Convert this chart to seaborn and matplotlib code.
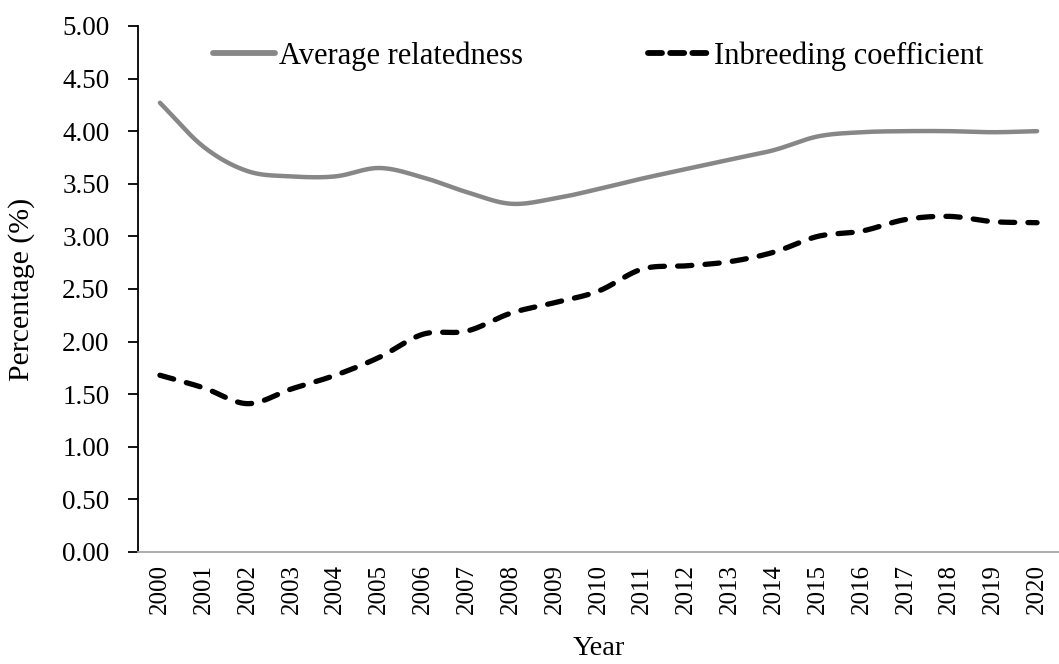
import numpy as np
import pandas as pd
import matplotlib
matplotlib.use("Agg")
import matplotlib.pyplot as plt
import seaborn as sns

years = [str(y) for y in range(2000, 2021)]
avg_relatedness = [4.27, 3.85, 3.62, 3.57, 3.57, 3.65, 3.56, 3.42, 3.31, 3.36, 3.45,
                   3.55, 3.64, 3.73, 3.82, 3.95, 3.99, 4.00, 4.00, 3.99, 4.00]
inbreeding = [1.68, 1.56, 1.41, 1.55, 1.68, 1.85, 2.07, 2.10, 2.27, 2.37, 2.48,
              2.69, 2.72, 2.76, 2.85, 3.00, 3.05, 3.16, 3.19, 3.14, 3.13]
yticks = [0, 0.5, 1, 1.5, 2, 2.5, 3, 3.5, 4, 4.5, 5]


def smooth(vals, n=20):
    """Catmull-Rom smoothing (similar to Excel's smoothed line)."""
    p = np.asarray(vals, dtype=float)
    pts = np.concatenate([[2 * p[0] - p[1]], p, [2 * p[-1] - p[-2]]])
    xs, ys = [], []
    for i in range(1, len(pts) - 2):
        t = np.linspace(0, 1, n, endpoint=False)
        p0, p1, p2, p3 = pts[i - 1], pts[i], pts[i + 1], pts[i + 2]
        y = 0.5 * ((2 * p1) + (-p0 + p2) * t + (2 * p0 - 5 * p1 + 4 * p2 - p3) * t ** 2
                   + (-p0 + 3 * p1 - 3 * p2 + p3) * t ** 3)
        xs.extend(i - 1 + t)
        ys.extend(y)
    xs.append(len(p) - 1)
    ys.append(p[-1])
    return np.array(xs), np.array(ys)


sns.set_theme(style="white")
plt.rcParams['font.family'] = ['Liberation Serif', 'DejaVu Serif']
plt.rcParams['text.color'] = 'black'
plt.rcParams['xtick.color'] = 'black'
plt.rcParams['ytick.color'] = 'black'
plt.rcParams['axes.labelcolor'] = 'black'

fig = plt.figure(figsize=(10.59, 6.64), dpi=100)
ax = fig.add_axes([0.1303, 0.1687, 0.8697, 0.7922])

xa, ya = smooth(avg_relatedness)
xi, yi = smooth(inbreeding)
df_a = pd.DataFrame({"x": xa, "y": ya})
df_i = pd.DataFrame({"x": xi, "y": yi})

sns.lineplot(data=df_a, x="x", y="y", ax=ax, color="#878787", linewidth=3.2,
             label="Average relatedness", solid_capstyle="round")
sns.lineplot(data=df_i, x="x", y="y", ax=ax, color="black", linewidth=3.8,
             label="Inbreeding coefficient")
ax.lines[1].set_dashes([2.7, 2.5])
ax.lines[1].set_dash_capstyle("round")

ax.set_xlim(-0.5, len(years) - 0.5)
ax.set_ylim(0, 5)
ax.set_xticks(range(len(years)))
ax.set_xticklabels(years, rotation=90, fontsize=18)
ax.set_yticks(yticks)
ax.set_yticklabels([f"{v:.2f}" for v in yticks], fontsize=19.5)
ax.tick_params(axis="y", which="both", left=True, length=7.5, width=1.3, color="black",
               direction="out", pad=13)
ax.tick_params(axis="x", bottom=False, pad=3)

for s in ["top", "right"]:
    ax.spines[s].set_visible(False)
ax.spines["left"].set_color("black")
ax.spines["left"].set_linewidth(1.3)
ax.spines["bottom"].set_color("#a6a6a6")
ax.spines["bottom"].set_linewidth(1.3)

ax.set_xlabel("Year", fontsize=20.5)
ax.set_ylabel("Percentage (%)", fontsize=21.5)
ax.xaxis.set_label_coords(0.5, -0.16)
ax.yaxis.set_label_coords(-0.112, 0.5)

leg = ax.legend(loc="center", bbox_to_anchor=(0.5, 0.943), ncol=2, frameon=False,
                fontsize=22, handlelength=2.0, handletextpad=0.15, columnspacing=4.1,
                borderpad=0, borderaxespad=0)
for h in leg.get_lines():
    h.set_linewidth(4.2)
leg.get_lines()[1].set_dashes([2.4, 1.4])
leg.get_lines()[1].set_dash_capstyle("round")

fig.savefig("out.png", dpi=100)
